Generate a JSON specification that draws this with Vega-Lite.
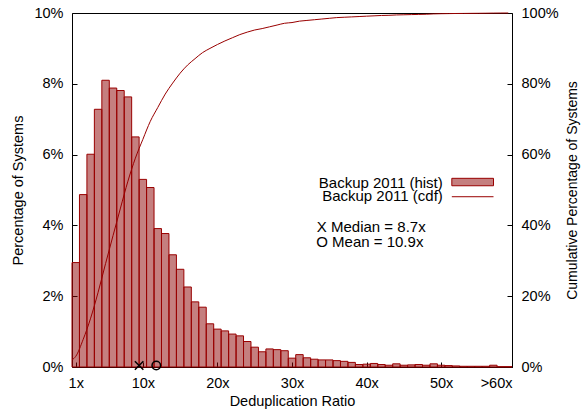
{
  "$schema": "https://vega.github.io/schema/vega-lite/v6.json",
  "width": 440,
  "height": 354,
  "autosize": {"type": "none"},
  "padding": {"left": 72, "top": 13, "right": 71, "bottom": 47},
  "background": "white",
  "config": {
    "view": {"stroke": "black", "strokeWidth": 1},
    "font": "Liberation Sans",
    "axis": {
      "domain": false,
      "grid": false,
      "labelFont": "Liberation Sans",
      "labelFontSize": 14.5,
      "labelColor": "black",
      "titleFont": "Liberation Sans",
      "titleFontSize": 14.5,
      "titleFontWeight": "normal",
      "titleColor": "black",
      "tickColor": "black",
      "tickSize": -5,
      "labelPadding": 14
    },
    "text": {"font": "Liberation Sans", "fontSize": 15, "color": "black"}
  },
  "datasets": {
    "hist": [
      {"r": 1, "lo": 0.5, "hi": 1.5, "pct": 2.95},
      {"r": 2, "lo": 1.5, "hi": 2.5, "pct": 4.87},
      {"r": 3, "lo": 2.5, "hi": 3.5, "pct": 6.01},
      {"r": 4, "lo": 3.5, "hi": 4.5, "pct": 7.28},
      {"r": 5, "lo": 4.5, "hi": 5.5, "pct": 8.1},
      {"r": 6, "lo": 5.5, "hi": 6.5, "pct": 7.88},
      {"r": 7, "lo": 6.5, "hi": 7.5, "pct": 7.81},
      {"r": 8, "lo": 7.5, "hi": 8.5, "pct": 7.63},
      {"r": 9, "lo": 8.5, "hi": 9.5, "pct": 6.5},
      {"r": 10, "lo": 9.5, "hi": 10.5, "pct": 5.3},
      {"r": 11, "lo": 10.5, "hi": 11.5, "pct": 5.07},
      {"r": 12, "lo": 11.5, "hi": 12.5, "pct": 3.91},
      {"r": 13, "lo": 12.5, "hi": 13.5, "pct": 3.77},
      {"r": 14, "lo": 13.5, "hi": 14.5, "pct": 3.17},
      {"r": 15, "lo": 14.5, "hi": 15.5, "pct": 2.76},
      {"r": 16, "lo": 15.5, "hi": 16.5, "pct": 2.26},
      {"r": 17, "lo": 16.5, "hi": 17.5, "pct": 1.84},
      {"r": 18, "lo": 17.5, "hi": 18.5, "pct": 1.69},
      {"r": 19, "lo": 18.5, "hi": 19.5, "pct": 1.22},
      {"r": 20, "lo": 19.5, "hi": 20.5, "pct": 1.07},
      {"r": 21, "lo": 20.5, "hi": 21.5, "pct": 1.02},
      {"r": 22, "lo": 21.5, "hi": 22.5, "pct": 0.93},
      {"r": 23, "lo": 22.5, "hi": 23.5, "pct": 0.88},
      {"r": 24, "lo": 23.5, "hi": 24.5, "pct": 0.72},
      {"r": 25, "lo": 24.5, "hi": 25.5, "pct": 0.56},
      {"r": 26, "lo": 25.5, "hi": 26.5, "pct": 0.43},
      {"r": 27, "lo": 26.5, "hi": 27.5, "pct": 0.51},
      {"r": 28, "lo": 27.5, "hi": 28.5, "pct": 0.49},
      {"r": 29, "lo": 28.5, "hi": 29.5, "pct": 0.46},
      {"r": 30, "lo": 29.5, "hi": 30.5, "pct": 0.25},
      {"r": 31, "lo": 30.5, "hi": 31.5, "pct": 0.35},
      {"r": 32, "lo": 31.5, "hi": 32.5, "pct": 0.26},
      {"r": 33, "lo": 32.5, "hi": 33.5, "pct": 0.22},
      {"r": 34, "lo": 33.5, "hi": 34.5, "pct": 0.2},
      {"r": 35, "lo": 34.5, "hi": 35.5, "pct": 0.2},
      {"r": 36, "lo": 35.5, "hi": 36.5, "pct": 0.18},
      {"r": 37, "lo": 36.5, "hi": 37.5, "pct": 0.16},
      {"r": 38, "lo": 37.5, "hi": 38.5, "pct": 0.13},
      {"r": 39, "lo": 38.5, "hi": 39.5, "pct": 0.07},
      {"r": 40, "lo": 39.5, "hi": 40.5, "pct": 0.08},
      {"r": 41, "lo": 40.5, "hi": 41.5, "pct": 0.1},
      {"r": 42, "lo": 41.5, "hi": 42.5, "pct": 0.07},
      {"r": 43, "lo": 42.5, "hi": 43.5, "pct": 0.05},
      {"r": 44, "lo": 43.5, "hi": 44.5, "pct": 0.09},
      {"r": 45, "lo": 44.5, "hi": 45.5, "pct": 0.05},
      {"r": 46, "lo": 45.5, "hi": 46.5, "pct": 0.06},
      {"r": 47, "lo": 46.5, "hi": 47.5, "pct": 0.07},
      {"r": 48, "lo": 47.5, "hi": 48.5, "pct": 0.05},
      {"r": 49, "lo": 48.5, "hi": 49.5, "pct": 0.09},
      {"r": 50, "lo": 49.5, "hi": 50.5, "pct": 0.05},
      {"r": 51, "lo": 50.5, "hi": 51.5, "pct": 0.04},
      {"r": 52, "lo": 51.5, "hi": 52.5, "pct": 0.03},
      {"r": 53, "lo": 52.5, "hi": 53.5, "pct": 0.02},
      {"r": 54, "lo": 53.5, "hi": 54.5, "pct": 0.02},
      {"r": 55, "lo": 54.5, "hi": 55.5, "pct": 0.02},
      {"r": 56, "lo": 55.5, "hi": 56.5, "pct": 0.02},
      {"r": 57, "lo": 56.5, "hi": 57.5, "pct": 0.05},
      {"r": 58, "lo": 57.5, "hi": 58.5, "pct": 0.01},
      {"r": 59, "lo": 58.5, "hi": 59.5, "pct": 0.01}
    ],
    "cdf": [
      {"r": 0.5, "cdf": 2.0},
      {"r": 1, "cdf": 3.0},
      {"r": 2, "cdf": 7.8},
      {"r": 3, "cdf": 13.8},
      {"r": 4, "cdf": 21.1},
      {"r": 5, "cdf": 29.2},
      {"r": 6, "cdf": 37.1},
      {"r": 7, "cdf": 44.9},
      {"r": 8, "cdf": 52.5},
      {"r": 9, "cdf": 59.0},
      {"r": 10, "cdf": 64.3},
      {"r": 11, "cdf": 69.4},
      {"r": 12, "cdf": 73.3},
      {"r": 13, "cdf": 77.1},
      {"r": 14, "cdf": 80.2},
      {"r": 15, "cdf": 83.0},
      {"r": 16, "cdf": 85.3},
      {"r": 17, "cdf": 87.1},
      {"r": 18, "cdf": 88.8},
      {"r": 19, "cdf": 90.0},
      {"r": 20, "cdf": 91.1},
      {"r": 21, "cdf": 92.1},
      {"r": 22, "cdf": 93.0},
      {"r": 23, "cdf": 93.9},
      {"r": 24, "cdf": 94.6},
      {"r": 25, "cdf": 95.2},
      {"r": 26, "cdf": 95.6},
      {"r": 27, "cdf": 96.1},
      {"r": 28, "cdf": 96.6},
      {"r": 29, "cdf": 97.1},
      {"r": 30, "cdf": 97.3},
      {"r": 31, "cdf": 97.7},
      {"r": 32, "cdf": 97.9},
      {"r": 33, "cdf": 98.1},
      {"r": 34, "cdf": 98.3},
      {"r": 35, "cdf": 98.5},
      {"r": 36, "cdf": 98.7},
      {"r": 37, "cdf": 98.8},
      {"r": 38, "cdf": 98.9},
      {"r": 39, "cdf": 99.0},
      {"r": 40, "cdf": 99.1},
      {"r": 41, "cdf": 99.2},
      {"r": 42, "cdf": 99.3},
      {"r": 43, "cdf": 99.35},
      {"r": 44, "cdf": 99.45},
      {"r": 45, "cdf": 99.5},
      {"r": 46, "cdf": 99.55},
      {"r": 47, "cdf": 99.6},
      {"r": 48, "cdf": 99.65},
      {"r": 49, "cdf": 99.75},
      {"r": 50, "cdf": 99.8},
      {"r": 51, "cdf": 99.83},
      {"r": 52, "cdf": 99.86},
      {"r": 53, "cdf": 99.88},
      {"r": 54, "cdf": 99.9},
      {"r": 55, "cdf": 99.92},
      {"r": 56, "cdf": 99.94},
      {"r": 57, "cdf": 99.97},
      {"r": 58, "cdf": 99.99},
      {"r": 59, "cdf": 100}
    ],
    "stats": [
      {"stat": "median", "pos": 9.5},
      {"stat": "mean", "pos": 11.8}
    ]
  },
  "layer": [
    {
      "layer": [
        {
          "data": {"name": "hist"},
          "mark": {"type": "rect", "fill": "#8b0000", "fillOpacity": 0.5, "stroke": "#990000", "strokeWidth": 1},
          "encoding": {
            "x": {
              "field": "lo", "type": "quantitative",
              "scale": {"domain": [0.5, 59.5], "nice": false, "zero": false},
              "axis": {
                "orient": "bottom",
                "values": [1, 10, 20, 30, 40, 50, 59.5],
                "labelExpr": "datum.value == 59.5 ? '>60x' : datum.value + 'x'",
                "title": "Deduplication Ratio",
                "titlePadding": 5
              }
            },
            "x2": {"field": "hi"},
            "y": {
              "field": "pct", "type": "quantitative",
              "scale": {"domain": [0, 10], "nice": false},
              "axis": {
                "orient": "left",
                "values": [0, 2, 4, 6, 8, 10],
                "labelExpr": "datum.value + '%'",
                "title": "Percentage of Systems",
                "titlePadding": 8
              }
            },
            "y2": {"datum": 0}
          }
        },
        {
          "data": {"name": "stats"},
          "mark": {"type": "point", "filled": false, "stroke": "black", "strokeWidth": 1.5, "opacity": 1, "yOffset": -1.5},
          "encoding": {
            "x": {
              "field": "pos", "type": "quantitative",
              "axis": {
                "orient": "bottom",
                "values": [1, 10, 20, 30, 40, 50, 59.5],
                "labelExpr": "datum.value == 59.5 ? '>60x' : datum.value + 'x'",
                "title": "Deduplication Ratio",
                "titlePadding": 5
              }
            },
            "y": {
              "datum": 0, "type": "quantitative",
              "axis": {
                "orient": "left",
                "values": [0, 2, 4, 6, 8, 10],
                "labelExpr": "datum.value + '%'",
                "title": "Percentage of Systems",
                "titlePadding": 8
              }
            },
            "shape": {
              "field": "stat", "type": "nominal",
              "scale": {"domain": ["median", "mean"], "range": ["M-1,-1L1,1M-1,1L1,-1", "circle"]},
              "legend": null
            },
            "size": {"value": 72}
          }
        },
        {
          "data": {
            "values": [
              {"label": "Backup 2011 (hist)", "lx": 50.22, "ly": 5.2},
              {"label": "Backup 2011 (cdf)", "lx": 50.22, "ly": 4.83}
            ]
          },
          "mark": {"type": "text", "align": "right", "baseline": "middle"},
          "encoding": {
            "x": {
              "field": "lx", "type": "quantitative",
              "axis": {
                "orient": "bottom",
                "values": [1, 10, 20, 30, 40, 50, 59.5],
                "labelExpr": "datum.value == 59.5 ? '>60x' : datum.value + 'x'",
                "title": "Deduplication Ratio",
                "titlePadding": 5
              }
            },
            "y": {
              "field": "ly", "type": "quantitative",
              "axis": {
                "orient": "left",
                "values": [0, 2, 4, 6, 8, 10],
                "labelExpr": "datum.value + '%'",
                "title": "Percentage of Systems",
                "titlePadding": 8
              }
            },
            "text": {"field": "label"}
          }
        },
        {
          "data": {
            "values": [
              {"label": "X Median = 8.7x", "lx": 33.33, "ly": 3.96},
              {"label": "O Mean = 10.9x", "lx": 33.25, "ly": 3.54}
            ]
          },
          "mark": {"type": "text", "align": "left", "baseline": "middle"},
          "encoding": {
            "x": {
              "field": "lx", "type": "quantitative",
              "axis": {
                "orient": "bottom",
                "values": [1, 10, 20, 30, 40, 50, 59.5],
                "labelExpr": "datum.value == 59.5 ? '>60x' : datum.value + 'x'",
                "title": "Deduplication Ratio",
                "titlePadding": 5
              }
            },
            "y": {
              "field": "ly", "type": "quantitative",
              "axis": {
                "orient": "left",
                "values": [0, 2, 4, 6, 8, 10],
                "labelExpr": "datum.value + '%'",
                "title": "Percentage of Systems",
                "titlePadding": 8
              }
            },
            "text": {"field": "label"}
          }
        },
        {
          "data": {"values": [{"x1": 51.43, "x2": 57.02, "y1": 5.33, "y2": 5.12}]},
          "mark": {"type": "rect", "fill": "#8b0000", "fillOpacity": 0.5, "stroke": "#990000", "strokeWidth": 1},
          "encoding": {
            "x": {
              "field": "x1", "type": "quantitative",
              "axis": {
                "orient": "bottom",
                "values": [1, 10, 20, 30, 40, 50, 59.5],
                "labelExpr": "datum.value == 59.5 ? '>60x' : datum.value + 'x'",
                "title": "Deduplication Ratio",
                "titlePadding": 5
              }
            },
            "x2": {"field": "x2"},
            "y": {
              "field": "y1", "type": "quantitative",
              "axis": {
                "orient": "left",
                "values": [0, 2, 4, 6, 8, 10],
                "labelExpr": "datum.value + '%'",
                "title": "Percentage of Systems",
                "titlePadding": 8
              }
            },
            "y2": {"field": "y2"}
          }
        },
        {
          "data": {"values": [{"x1": 51.43, "x2": 57.02, "y1": 4.81}]},
          "mark": {"type": "rule", "stroke": "#990000", "strokeWidth": 1},
          "encoding": {
            "x": {
              "field": "x1", "type": "quantitative",
              "axis": {
                "orient": "bottom",
                "values": [1, 10, 20, 30, 40, 50, 59.5],
                "labelExpr": "datum.value == 59.5 ? '>60x' : datum.value + 'x'",
                "title": "Deduplication Ratio",
                "titlePadding": 5
              }
            },
            "x2": {"field": "x2"},
            "y": {
              "field": "y1", "type": "quantitative",
              "axis": {
                "orient": "left",
                "values": [0, 2, 4, 6, 8, 10],
                "labelExpr": "datum.value + '%'",
                "title": "Percentage of Systems",
                "titlePadding": 8
              }
            }
          }
        }
      ]
    },
    {
      "data": {"name": "cdf"},
      "mark": {"type": "line", "stroke": "#990000", "strokeWidth": 1, "interpolate": "monotone"},
      "encoding": {
        "x": {
          "field": "r", "type": "quantitative",
          "axis": {
            "orient": "bottom",
            "values": [1, 10, 20, 30, 40, 50, 59.5],
            "labelExpr": "datum.value == 59.5 ? '>60x' : datum.value + 'x'",
            "title": "Deduplication Ratio",
            "titlePadding": 5
          }
        },
        "y": {
          "field": "cdf", "type": "quantitative",
          "scale": {"domain": [0, 100], "nice": false},
          "axis": {
            "orient": "right",
            "values": [0, 20, 40, 60, 80, 100],
            "labelExpr": "datum.value + '%'",
            "title": "Cumulative Percentage of Systems",
            "titleAngle": 270,
            "titleFontSize": 14,
            "titlePadding": 21
          }
        }
      }
    }
  ],
  "resolve": {"scale": {"y": "independent"}, "axis": {"y": "independent"}}
}
